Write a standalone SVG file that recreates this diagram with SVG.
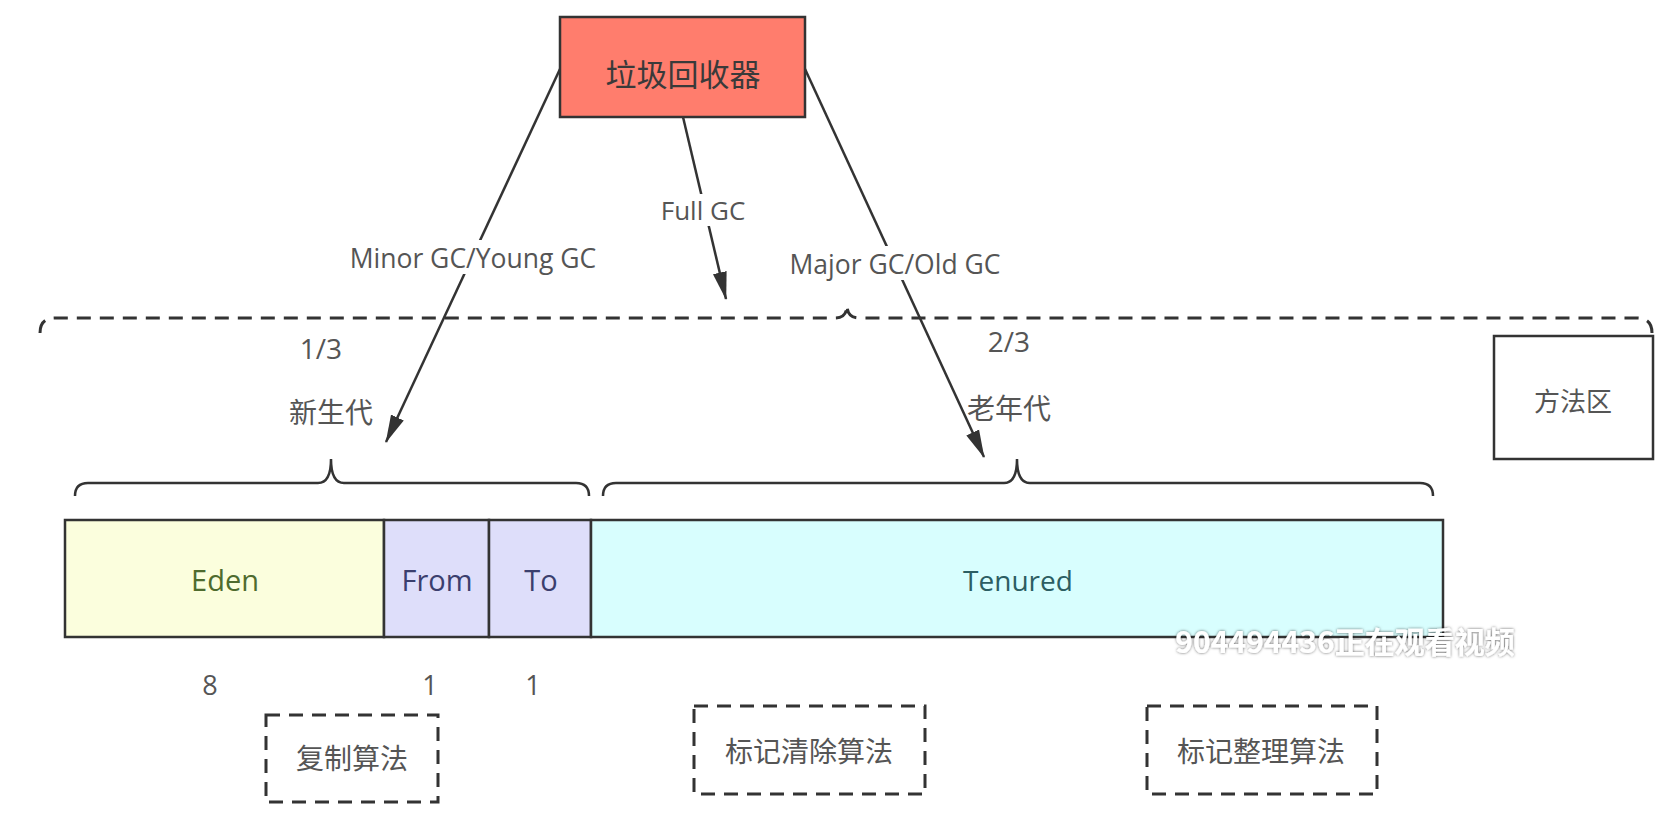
<svg xmlns="http://www.w3.org/2000/svg" width="1674" height="834" viewBox="0 0 1674 834">
<defs>
<marker id="arrow" viewBox="0 0 28 16" refX="27" refY="8" markerWidth="28" markerHeight="16" markerUnits="userSpaceOnUse" orient="auto">
<path d="M0,1 L28,8 L0,15 Z" fill="#333"/>
</marker>
<filter id="shadow" x="-10%" y="-50%" width="120%" height="200%">
<feDropShadow dx="0" dy="0" stdDeviation="1.8" flood-color="#000" flood-opacity="0.6"/>
</filter>
</defs>
<style>
.lat{font-family:"Open Sans","Noto Sans","Noto Sans CJK SC",sans-serif;}
.cjk{font-family:"Noto Sans CJK SC","Noto Sans",sans-serif;}
.gray{fill:#555;}
.box{stroke:#333;stroke-width:2.5;}
.dash{fill:none;stroke:#333;stroke-width:3;stroke-dasharray:14 9;}
.brace{fill:none;stroke:#333;stroke-width:2.5;}
.conn{stroke:#333;stroke-width:2.5;fill:none;marker-end:url(#arrow);}
.lbg{fill:#fff;}
</style>
<rect width="1674" height="834" fill="#fff"/>

<g id="connectors">
<line class="conn" x1="560" y1="69" x2="386" y2="442"/>
<line class="conn" x1="683" y1="117" x2="726" y2="299"/>
<line class="conn" x1="805" y1="69" x2="984" y2="457"/>
</g>

<g id="label-minor">
<rect class="lbg" x="344" y="240" width="258" height="34"/>
<text class="lat gray" x="473" y="268" font-size="26.5" text-anchor="middle">Minor GC/Young GC</text>
</g>
<g id="label-full">
<rect class="lbg" x="658" y="194" width="90" height="32"/>
<text class="lat gray" x="703" y="220" font-size="26" text-anchor="middle">Full GC</text>
</g>
<g id="label-major">
<rect class="lbg" x="784" y="246" width="222" height="34"/>
<text class="lat gray" x="895" y="274" font-size="26.5" text-anchor="middle">Major GC/Old GC</text>
</g>

<g id="gc">
<rect class="box" x="560" y="17" width="245" height="100" fill="#FF7D6D"/>
<text class="cjk" x="683" y="86" font-size="31" fill="#3a3a3a" text-anchor="middle">垃圾回收器</text>
</g>

<g id="heap-brace">
<path class="dash" d="M40,333 Q40,318 55,318 L835,318 Q847,318 847,305 Q847,318 859,318 L1637,318 Q1652,318 1652,333"/>
</g>

<g id="young-label">
<text class="lat gray" x="321" y="359" font-size="28" text-anchor="middle">1/3</text>
<text class="cjk gray" x="331" y="423" font-size="28" text-anchor="middle">新生代</text>
<path class="brace" d="M75,496 Q75,483 88,483 L318,483 Q331,483 331,459 Q331,483 344,483 L576,483 Q589,483 589,496"/>
</g>

<g id="old-label">
<text class="lat gray" x="1009" y="352" font-size="28" text-anchor="middle">2/3</text>
<text class="cjk gray" x="1009" y="419" font-size="28" text-anchor="middle">老年代</text>
<path class="brace" d="M603,496 Q603,483 616,483 L1004,483 Q1017,483 1017,459 Q1017,483 1030,483 L1420,483 Q1433,483 1433,496"/>
</g>

<g id="method-area">
<rect class="box" x="1494" y="336" width="159" height="123" fill="#fff"/>
<text class="cjk gray" x="1573" y="411" font-size="26" text-anchor="middle">方法区</text>
</g>

<g id="eden">
<rect class="box" x="65" y="520" width="319" height="117" fill="#FBFEDD"/>
<text class="lat" x="225" y="591" font-size="29" fill="#4E6B2E" text-anchor="middle">Eden</text>
</g>
<g id="from">
<rect class="box" x="384" y="520" width="105" height="117" fill="#DEDEFA"/>
<text class="lat" x="437" y="591" font-size="29" fill="#3B3F6E" text-anchor="middle">From</text>
</g>
<g id="to">
<rect class="box" x="489" y="520" width="102" height="117" fill="#DEDEFA"/>
<text class="lat" x="541" y="591" font-size="29" fill="#3B3F6E" text-anchor="middle">To</text>
</g>
<g id="tenured">
<rect class="box" x="591" y="520" width="852" height="117" fill="#D8FEFE"/>
<text class="lat" x="1018" y="591" font-size="28" fill="#2C5E63" text-anchor="middle">Tenured</text>
</g>

<g id="ratios">
<text class="lat gray" x="210" y="695" font-size="27" text-anchor="middle">8</text>
<text class="lat gray" x="430" y="695" font-size="27" text-anchor="middle">1</text>
<text class="lat gray" x="533" y="695" font-size="27" text-anchor="middle">1</text>
</g>

<g id="copy-alg">
<rect class="dash" x="266" y="715" width="172" height="87"/>
<text class="cjk gray" x="352" y="769" font-size="28" text-anchor="middle">复制算法</text>
</g>
<g id="mark-sweep">
<rect class="dash" x="694" y="706" width="231" height="88"/>
<text class="cjk gray" x="809" y="762" font-size="28" text-anchor="middle">标记清除算法</text>
</g>
<g id="mark-compact">
<rect class="dash" x="1147" y="706" width="230" height="88"/>
<text class="cjk gray" x="1261" y="762" font-size="28" text-anchor="middle">标记整理算法</text>
</g>

<g id="watermark">
<text class="cjk" x="1345" y="653" font-size="30" font-weight="bold" fill="#fff" text-anchor="middle" filter="url(#shadow)">904494436正在观看视频</text>
</g>
</svg>
